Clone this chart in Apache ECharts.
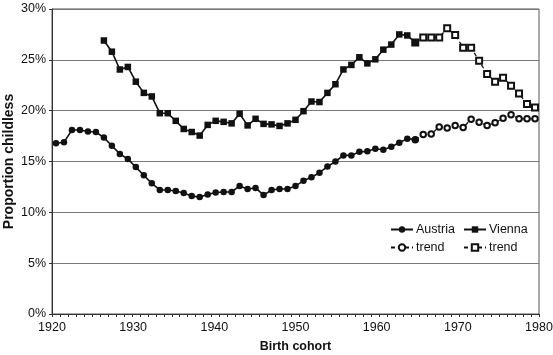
<!DOCTYPE html>
<html>
<head>
<meta charset="utf-8">
<script src="https://cdn.jsdelivr.net/npm/echarts@6/dist/echarts.min.js"></script>
<style>
  html, body { margin: 0; padding: 0; background: #fff; }
  #chart { width: 553px; height: 355px; }
</style>
</head>
<body>
<div id="chart"></div>
<script>
// Birth cohorts 1920..1980 (categories)
const firstYear = 1920;
const lastYear = 1980;
const xTickLabels = [1920, 1930, 1940, 1950, 1960, 1970, 1980];
const yTickLabels = ['0%', '5%', '10%', '15%', '20%', '25%', '30%'];

// Austria, observed 1920-1965
const austriaStart = 1920;
const austria = [16.8, 16.9, 18.1, 18.1, 17.95, 17.9, 17.35, 16.55, 15.75, 15.25,
  14.45, 13.65, 12.85, 12.2, 12.2, 12.1, 11.9, 11.6, 11.5, 11.75,
  11.95, 12.0, 12.0, 12.6, 12.3, 12.4, 11.7, 12.2, 12.3, 12.3,
  12.6, 13.1, 13.45, 13.9, 14.5, 15.0, 15.6, 15.6, 15.95, 16.0,
  16.25, 16.15, 16.45, 16.85, 17.25, 17.15];
// Austria, trend 1966-1980
const austriaTrendStart = 1966;
const austriaTrend = [17.65, 17.7, 18.4, 18.3, 18.55, 18.35, 19.15, 18.85, 18.55, 18.8,
  19.25, 19.6, 19.2, 19.2, 19.2];

// Vienna, observed 1926-1965
const viennaStart = 1926;
const vienna = [26.9, 25.8, 24.05, 24.3, 22.85, 21.75, 21.4, 19.75, 19.75, 19.0,
  18.2, 17.9, 17.55, 18.6, 19.0, 18.9, 18.75, 19.7, 18.55, 19.2,
  18.7, 18.65, 18.5, 18.75, 19.1, 19.95, 20.9, 20.85, 21.75, 22.6,
  24.05, 24.5, 25.25, 24.65, 25.05, 26.0, 26.5, 27.5, 27.4, 26.7];
// Vienna, trend 1966-1980
const viennaTrendStart = 1966;
const viennaTrend = [27.2, 27.2, 27.2, 28.1, 27.45, 26.2, 26.2, 24.9, 23.6, 22.85,
  23.25, 22.45, 21.7, 20.65, 20.3];

// ---- build ----
const years = [];
for (let y = firstYear; y <= lastYear; y++) years.push(String(y));

function place(values, start) {
  const out = years.map(() => null);
  values.forEach((v, i) => { out[start - firstYear + i] = v; });
  return out;
}
// trend series join the last observed point (its marker is covered by the observed series)
function placeTrend(values, start, observed, obsStart) {
  const out = place(values, start);
  out[start - firstYear - 1] = observed[start - 1 - obsStart];
  return out;
}

const ink = '#111';
const font = '"Liberation Sans", Arial, Helvetica, sans-serif';

const legendCommon = {
  orient: 'vertical', top: 223, padding: 0,
  itemWidth: 22, itemHeight: 8, itemGap: 5,
  formatter: n => n.replace(/^.* trend$/, 'trend'),
  textStyle: { fontSize: 12.5, color: ink, fontFamily: font, padding: [0, 0, 0, -2] }
};

const chart = echarts.init(document.getElementById('chart'), null, { renderer: 'canvas' });
chart.setOption({
  animation: false,
  backgroundColor: '#fff',
  color: [ink, ink, ink, ink],
  textStyle: { fontFamily: font },
  grid: {
    left: 52, right: 14, top: 9, bottom: 41,
    containLabel: false,
    outerBoundsMode: 'none',
    show: true, borderColor: '#555', borderWidth: 1, backgroundColor: 'transparent'
  },
  legend: [
    Object.assign({ data: ['Austria', 'Austria trend'], left: 390 }, legendCommon),
    Object.assign({ data: ['Vienna', 'Vienna trend'], left: 463 }, legendCommon)
  ],
  xAxis: [
    {
      type: 'category',
      data: years,
      boundaryGap: true,
      axisLine: { show: true, lineStyle: { color: '#333', width: 1 } },
      axisTick: { show: true, interval: 0, length: 3, lineStyle: { color: '#333' } },
      axisLabel: { show: false },
      splitLine: { show: false }
    },
    {
      type: 'value',
      position: 'bottom',
      min: firstYear, max: lastYear, interval: 10,
      axisLine: { show: false },
      axisTick: { show: false },
      splitLine: { show: false },
      axisLabel: {
        fontSize: 12.5, color: ink, fontFamily: font, margin: 7,
        formatter: v => (xTickLabels.includes(v) ? String(v) : '')
      },
      name: 'Birth cohort',
      nameLocation: 'middle',
      nameGap: 26,
      nameMoveOverlap: false,
      nameTextStyle: { fontSize: 12.5, fontWeight: 'bold', color: ink, fontFamily: font }
    }
  ],
  yAxis: {
    type: 'value',
    min: 0, max: 30, interval: 5,
    axisLine: { show: true, lineStyle: { color: '#333', width: 1 } },
    axisTick: { show: true, length: 3, lineStyle: { color: '#333' } },
    axisLabel: {
      fontSize: 12.5, color: ink, fontFamily: font, margin: 6,
      formatter: v => yTickLabels[v / 5]
    },
    splitLine: { show: true, lineStyle: { color: '#7a7a7a', width: 1.2 } },
    name: 'Proportion childless',
    nameLocation: 'middle',
    nameGap: 36,
    nameMoveOverlap: false,
    nameTextStyle: { fontSize: 14, fontWeight: 'bold', color: ink, fontFamily: font }
  },
  series: [
    {
      name: 'Austria trend', type: 'line', xAxisIndex: 0,
      data: placeTrend(austriaTrend, austriaTrendStart, austria, austriaStart),
      symbol: 'emptyCircle', symbolSize: 5.5, showSymbol: true, showAllSymbol: true,
      itemStyle: { color: ink, borderWidth: 1 },
      lineStyle: { color: ink, width: 1.3, type: [4, 3] },
      z: 2
    },
    {
      name: 'Vienna trend', type: 'line', xAxisIndex: 0,
      data: placeTrend(viennaTrend, viennaTrendStart, vienna, viennaStart),
      symbol: 'emptyRect', symbolSize: 6, showSymbol: true, showAllSymbol: true,
      itemStyle: { color: ink, borderWidth: 1 },
      lineStyle: { color: ink, width: 1.3, type: [4, 3] },
      z: 2
    },
    {
      name: 'Austria', type: 'line', xAxisIndex: 0,
      data: place(austria, austriaStart),
      symbol: 'circle', symbolSize: 6.5, showSymbol: true, showAllSymbol: true,
      itemStyle: { color: ink },
      lineStyle: { color: ink, width: 1.6 },
      z: 3
    },
    {
      name: 'Vienna', type: 'line', xAxisIndex: 0,
      data: place(vienna, viennaStart),
      symbol: 'rect', symbolSize: 6.5, showSymbol: true, showAllSymbol: true,
      itemStyle: { color: ink },
      lineStyle: { color: ink, width: 1.6 },
      z: 3
    }
  ]
});
</script>
</body>
</html>
